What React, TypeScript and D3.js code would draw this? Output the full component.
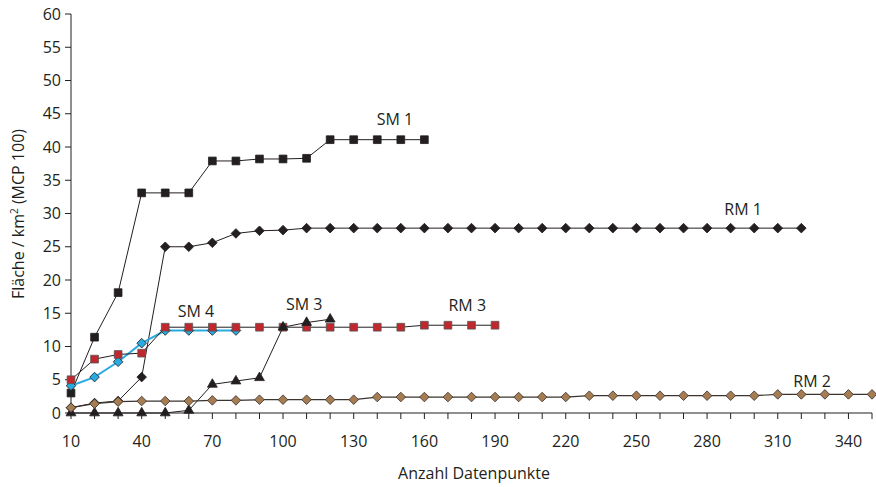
import React from 'react';
import * as d3 from 'd3';

// Anzahl Datenpunkte
const COUNTS = [10, 20, 30, 40, 50, 60, 70, 80, 90, 100, 110, 120, 130, 140, 150, 160, 170, 180, 190, 200,
    210, 220, 230, 240, 250, 260, 270, 280, 290, 300, 310, 320, 330, 340, 350];

// area in km² (MCP 100), one value per count from 10 on
const SM1 = [3.0, 11.4, 18.1, 33.1, 33.1, 33.1, 37.9, 37.9, 38.2, 38.2, 38.3, 41.1, 41.1, 41.1, 41.1, 41.1];
const RM1 = [0.8, 1.5, 1.8, 5.4, 25.0, 25.0, 25.6, 27.0, 27.4, 27.5, 27.8, 27.8, 27.8, 27.8, 27.8, 27.8,
    27.8, 27.8, 27.8, 27.8, 27.8, 27.8, 27.8, 27.8, 27.8, 27.8, 27.8, 27.8, 27.8, 27.8, 27.8, 27.8];
const SM4 = [4.1, 5.4, 7.7, 10.5, 12.4, 12.4, 12.4, 12.4];
const RM3 = [5.0, 8.1, 8.8, 9.0, 12.9, 12.9, 12.9, 12.9, 12.9, 12.9, 12.9, 12.9, 12.9, 12.9, 12.9,
    13.2, 13.2, 13.2, 13.2];
const SM3 = [0, 0, 0, 0, 0, 0.4, 4.3, 4.8, 5.3, 12.9, 13.6, 14.1];
const RM2 = [0.8, 1.4, 1.7, 1.8, 1.8, 1.8, 1.9, 1.9, 2.0, 2.0, 2.0, 2.0, 2.0, 2.4, 2.4, 2.4, 2.4, 2.4,
    2.4, 2.4, 2.4, 2.4, 2.6, 2.6, 2.6, 2.6, 2.6, 2.6, 2.6, 2.6, 2.8, 2.8, 2.8, 2.8, 2.8];

const X_TICKS = [10, 40, 70, 100, 130, 160, 190, 220, 250, 280, 310, 340];
const Y_TICKS = [0, 5, 10, 15, 20, 25, 30, 35, 40, 45, 50, 55, 60];

const INK = '#231f20';
const FONT = '"Open Sans", sans-serif';

// draw order matters: later series sit on top
const SERIES = [
    { name: 'SM 1', values: SM1, marker: 'square', fill: INK, stroke: INK, line: INK, lineWidth: 1, label: [147.5, 43.3] },
    { name: 'RM 1', values: RM1, marker: 'diamond', fill: INK, stroke: INK, line: INK, lineWidth: 1, label: [295.3, 29.8] },
    { name: 'SM 4', values: SM4, marker: 'diamond', fill: '#29abe2', stroke: INK, line: '#29abe2', lineWidth: 2, label: [63, 14.4] },
    { name: 'RM 3', values: RM3, marker: 'square', fill: '#c1272d', stroke: '#555', line: INK, lineWidth: 1, label: [178.2, 15.3] },
    { name: 'SM 3', values: SM3, marker: 'triangle', fill: INK, stroke: INK, line: INK, lineWidth: 1, label: [109, 15.5] },
    { name: 'RM 2', values: RM2, marker: 'diamond', fill: '#a67c52', stroke: '#3c3430', line: '#3c3430', lineWidth: 1.2, label: [324.6, 3.9] },
];

const W = 876;
const H = 487;

const x = d3.scaleLinear().domain([10, 350]).range([71, 872]);
const y = d3.scaleLinear().domain([0, 60]).range([413, 14]);

const symbolPath = (kind: string) => {
    if (kind === 'square') return d3.symbol(d3.symbolSquare, 60)();
    if (kind === 'triangle') return d3.symbol(d3.symbolTriangle, 42)();
    return d3.symbol(d3.symbolSquare, 46)();
};

const App = () => {
    const line = d3.line<number>()
        .x((_, i) => x(COUNTS[i]))
        .y(d => y(d));

    return (
        <svg width={W} height={H} style={{ position: 'absolute', left: 0, top: 0, background: '#fff' }}
            fontFamily={FONT}>
            {/* y axis */}
            <line x1={71} x2={71} y1={y(60)} y2={y(0)} stroke={INK} strokeWidth={1} />
            {Y_TICKS.map(t => (
                <g key={t} transform={`translate(71,${y(t)})`}>
                    <line x1={-6} x2={0} stroke={INK} />
                    <text x={-10} dy="0.35em" textAnchor="end" fontSize={16} fill={INK}>{t}</text>
                </g>
            ))}

            {/* x axis */}
            <line x1={x(10)} x2={x(350)} y1={y(0)} y2={y(0)} stroke={INK} strokeWidth={1} />
            {COUNTS.map(c => (
                <line key={c} x1={x(c)} x2={x(c)} y1={y(0)} y2={y(0) + 6} stroke={INK} />
            ))}
            {X_TICKS.map(t => (
                <text key={t} x={x(t)} y={447} textAnchor="middle" fontSize={16} fill={INK}>{t}</text>
            ))}

            <text x={474} y={479} textAnchor="middle" fontSize={16} fill={INK}>Anzahl Datenpunkte</text>
            <text transform="translate(24,214) rotate(-90)" textAnchor="middle" fontSize={16} fill={INK}>
                Fläche / km<tspan dy={-6} fontSize={10}>2</tspan><tspan dy={6}> (MCP 100)</tspan>
            </text>

            {SERIES.map(s => (
                <g key={s.name}>
                    <path d={line(s.values) || ''} fill="none" stroke={s.line} strokeWidth={s.lineWidth} />
                    {s.values.map((v, i) => (
                        <path key={i} d={symbolPath(s.marker) || ''}
                            transform={`translate(${x(COUNTS[i])},${y(v)})${s.marker === 'diamond' ? ' rotate(45)' : ''}`}
                            fill={s.fill} stroke={s.stroke} strokeWidth={0.8} />
                    ))}
                </g>
            ))}

            {SERIES.map(s => (
                <text key={s.name} x={x(s.label[0])} y={y(s.label[1])} textAnchor="middle" fontSize={16} fill={INK}>
                    {s.name}
                </text>
            ))}
        </svg>
    );
};

export default App;
